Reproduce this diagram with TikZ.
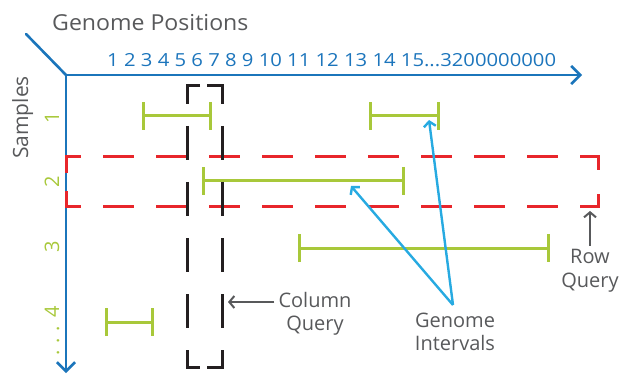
\documentclass[tikz,border=0pt]{standalone}
\usepackage{fontspec}
\setmainfont{Open Sans}
\usetikzlibrary{arrows.meta}
\definecolor{axisblue}{HTML}{1B75BB}
\definecolor{numblue}{HTML}{1C75BC}
\definecolor{ivgreen}{HTML}{A8C83A}
\definecolor{qred}{HTML}{E8262B}
\definecolor{txtgrey}{HTML}{58595B}
\definecolor{arrcyan}{HTML}{27AAE1}
\definecolor{qblack}{HTML}{231F20}
\tikzset{
  axis/.style={draw=axisblue, line width=2.6pt},
  chev/.style={-{Straight Barb[length=9pt,width=18pt,line width=2.6pt]}},
  interval/.style={draw=ivgreen, line width=3pt, {Bar[width=28pt,line width=3pt]}-{Bar[width=28pt,line width=3pt]}},
  rowq/.style={draw=qred, line width=3pt, dash pattern=on 31pt off 22pt},
  colq/.style={draw=qblack, line width=3pt, dash pattern=on 34pt off 22pt},
  pointer/.style={draw=txtgrey, line width=2pt, -{Straight Barb[length=5pt,width=12pt,line width=2pt]}},
  gipointer/.style={draw=arrcyan, line width=2.4pt, -{Straight Barb[length=5pt,width=12pt,line width=2.4pt]}},
  lbl/.style={text=txtgrey, inner sep=0pt, font=\fontsize{20}{23.5}\selectfont, align=center},
  rowlbl/.style={text=ivgreen, inner sep=0pt, rotate=90, anchor=base, font=\fontsize{20}{24}\selectfont},
}
\begin{document}
\begin{tikzpicture}[x=1pt,y=-1pt]
\useasboundingbox (0,0) rectangle (621,374);

% axes
\coordinate (diag) at (26,34);
\coordinate (origin) at (66,75);
\coordinate (xend) at (582,75);
\coordinate (yend) at (66,373);
\draw[axis, line cap=round] (diag) -- (origin);
\draw[axis, chev] (origin) -- (xend);
\draw[axis, chev] (origin) -- (yend);

% axis titles
\node[text=txtgrey, inner sep=0pt, anchor=base west, xscale=1.05, font=\fontsize{22}{25}\selectfont] (gp) at (52,31) {Genome Positions};
\node[text=numblue, inner sep=0pt, anchor=base west, xscale=1.125, font=\fontsize{18}{21}\selectfont] (nums) at (107,67) {1 2 3 4 5 6 7 8 9 10 11 12 13 14 15...3200000000};
\node[text=txtgrey, inner sep=0pt, anchor=base west, rotate=90, font=\fontsize{21}{24}\selectfont] (samples) at (28,159) {Samples};

% row labels
\node[rowlbl] (r1) at (59,118) {1};
\node[rowlbl] (r2) at (59,182) {2};
\node[rowlbl] (r3) at (59,247) {3};
\node[rowlbl] (r4) at (59,312) {4};
\node[rowlbl] (rdots) at (59,341) {. . .};

% intervals
\coordinate (i1a) at (142,116); \coordinate (i1b) at (212,116);
\coordinate (i2a) at (369,116); \coordinate (i2b) at (440,116);
\coordinate (i3a) at (202,181); \coordinate (i3b) at (405,181);
\coordinate (i4a) at (298,248); \coordinate (i4b) at (550,248);
\coordinate (i5a) at (105,322); \coordinate (i5b) at (154,322);
\draw[interval] (i1a) -- (i1b);
\draw[interval] (i2a) -- (i2b);
\draw[interval] (i3a) -- (i3b);
\draw[interval] (i4a) -- (i4b);
\draw[interval] (i5a) -- (i5b);

% row query (red dashed box)
\draw[rowq] (66,173) -- (66,157) -- (598,157) -- (598,173);
\draw[rowq] (66,191) -- (66,207) -- (598,207) -- (598,191);

% column query (black dashed box)
\draw[colq, dash phase=3pt] (200,86) -- (187,86) -- (187,367) -- (200,367);
\draw[colq, dash phase=1pt] (207,86) -- (222,86) -- (222,367) -- (207,367);

% labels with pointers
\node[lbl] (colq) at (315,314) {Column\\Query};
\coordinate (colqtip) at (228,302);
\path (colq.west |- colqtip) ++(-4,0) coordinate (colqstart);
\draw[pointer] (colqstart) -- (colqtip);

\node[lbl] (rowq) at (590,271) {Row\\Query};
\coordinate (rowqtip) at (590,211);
\path (rowq.north) ++(0,-4) coordinate (rowqstart);
\draw[pointer] (rowqstart) -- (rowqtip);

\node[lbl] (gi) at (455,332) {Genome\\Intervals};
\coordinate (gistart) at (453,305);
\coordinate (gitip1) at (429,120);
\coordinate (gitip2) at (351,186);
\draw[gipointer] (gistart) -- (gitip1);
\draw[gipointer] (gistart) -- (gitip2);
\end{tikzpicture}
\end{document}
